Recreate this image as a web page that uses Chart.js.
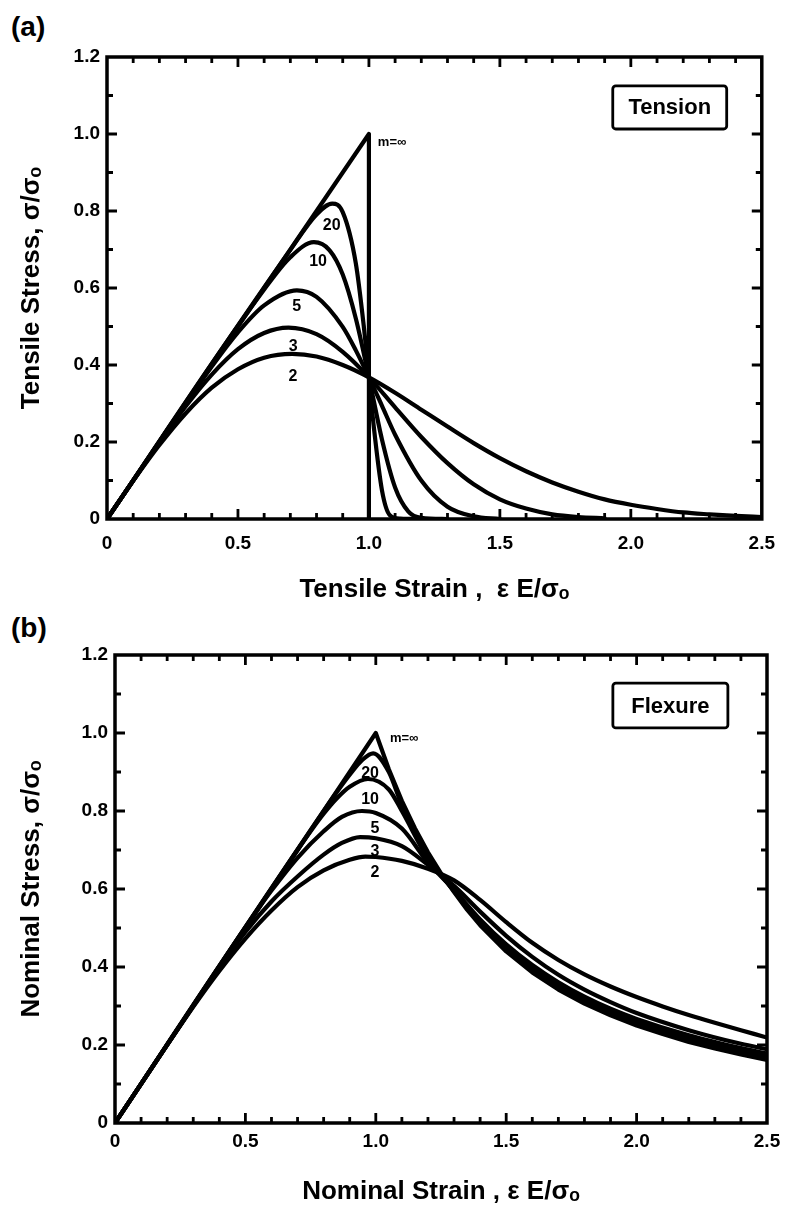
<!DOCTYPE html>
<html>
<head>
<meta charset="utf-8">
<script src="https://cdn.jsdelivr.net/npm/chart.js@4.4.0/dist/chart.umd.min.js"></script>
<style>
  html, body { margin: 0; padding: 0; background: #fff; }
  #wrap { position: relative; width: 788px; height: 1209px; overflow: hidden; }
  canvas { position: absolute; left: 0; }
  .panel { position: absolute; left: 11px; line-height: 1; font: bold 28px 'Liberation Sans', Arial, sans-serif; }
</style>
</head>
<body>
<div id="wrap">
  <div class="panel" style="top:11px">(a)</div>
  <canvas id="tensionChart" width="788" height="606" style="top:0"></canvas>
  <div class="panel" style="top:612px">(b)</div>
  <canvas id="flexureChart" width="788" height="603" style="top:606px"></canvas>
</div>
<script>
// ---- (a) tension : strain / stress ----
const tStrainInf = [0, 1.0, 1.0];
const tStressInf = [0, 1.0, 0];
const tStrain20 = [0, 0.7, 0.8, 0.86, 0.9, 0.95, 0.98, 1.0, 1.02, 1.05, 1.08, 1.12, 1.2];
const tStress20 = [0, 0.699, 0.791, 0.819, 0.797, 0.664, 0.503, 0.368, 0.231, 0.074, 0.010, 0.001, 0];
const tStrain10 = [0, 0.6, 0.7, 0.79, 0.85, 0.9, 0.95, 1.0, 1.05, 1.1, 1.15, 1.2, 1.3];
const tStress10 = [0, 0.596, 0.680, 0.719, 0.698, 0.635, 0.521, 0.368, 0.206, 0.082, 0.020, 0.003, 0];
const tStrain5 = [0, 0.4, 0.5, 0.6, 0.725, 0.8, 0.9, 0.95, 1.0, 1.05, 1.1, 1.2, 1.3, 1.4, 1.5];
const tStress5 = [0, 0.396, 0.485, 0.555, 0.594, 0.577, 0.499, 0.438, 0.368, 0.294, 0.219, 0.100, 0.032, 0.007, 0];
const tStrain3 = [0, 0.2, 0.3, 0.4, 0.5, 0.6, 0.693, 0.8, 0.9, 1.0, 1.1, 1.2, 1.3, 1.4, 1.5, 1.6, 1.7, 1.8, 1.9];
const tStress3 = [0, 0.198, 0.292, 0.375, 0.441, 0.483, 0.497, 0.480, 0.434, 0.368, 0.290, 0.213, 0.145, 0.090, 0.051, 0.027, 0.012, 0.005, 0.002];
const tStrain2 = [0, 0.1, 0.2, 0.3, 0.4, 0.5, 0.6, 0.707, 0.8, 0.9, 1.0, 1.1, 1.2, 1.3, 1.4, 1.5, 1.6, 1.7, 1.8, 1.9, 2.0, 2.1, 2.2, 2.3, 2.4, 2.5];
const tStress2 = [0, 0.099, 0.192, 0.274, 0.341, 0.389, 0.419, 0.429, 0.422, 0.400, 0.368, 0.328, 0.284, 0.240, 0.197, 0.158, 0.124, 0.095, 0.071, 0.051, 0.037, 0.026, 0.017, 0.012, 0.008, 0.005];

// ---- (b) flexure ----
const fStrainInf = [0, 1.0, 1.05, 1.1, 1.15, 1.2, 1.25, 1.3, 1.35, 1.4, 1.5, 1.6, 1.7, 1.8, 1.9, 2.0, 2.1, 2.2, 2.3, 2.4, 2.5];
const fStressInf = [0, 1.0, 0.907, 0.826, 0.756, 0.694, 0.640, 0.592, 0.547, 0.507, 0.440, 0.386, 0.342, 0.306, 0.276, 0.250, 0.228, 0.208, 0.191, 0.176, 0.162];
const fStrain20 = [0, 0.8, 0.85, 0.9, 0.95, 0.99, 1.05, 1.1, 1.2, 1.3, 1.4, 1.5, 1.6, 1.7, 1.8, 1.9, 2.0, 2.2, 2.4, 2.5];
const fStress20 = [0, 0.8, 0.848, 0.893, 0.932, 0.948, 0.900, 0.815, 0.686, 0.594, 0.511, 0.446, 0.392, 0.348, 0.311, 0.281, 0.255, 0.213, 0.181, 0.167];
const fStrain10 = [0, 0.7, 0.75, 0.8, 0.85, 0.9, 0.97, 1.05, 1.1, 1.2, 1.3, 1.4, 1.5, 1.6, 1.7, 1.8, 1.9, 2.0, 2.2, 2.4, 2.5];
const fStress10 = [0, 0.7, 0.748, 0.793, 0.832, 0.862, 0.882, 0.855, 0.80, 0.678, 0.596, 0.515, 0.450, 0.397, 0.353, 0.316, 0.286, 0.260, 0.218, 0.186, 0.172];
const fStrain5 = [0, 0.55, 0.6, 0.7, 0.8, 0.87, 0.947, 1.0, 1.1, 1.2, 1.3, 1.4, 1.5, 1.6, 1.7, 1.8, 1.9, 2.0, 2.2, 2.4, 2.5];
const fStress5 = [0, 0.55, 0.596, 0.680, 0.748, 0.785, 0.800, 0.795, 0.755, 0.668, 0.598, 0.522, 0.458, 0.405, 0.361, 0.324, 0.293, 0.267, 0.225, 0.192, 0.178];
const fStrain3 = [0, 0.4, 0.5, 0.6, 0.7, 0.8, 0.87, 0.94, 1.0, 1.1, 1.2, 1.3, 1.4, 1.5, 1.6, 1.7, 1.8, 1.9, 2.0, 2.2, 2.4, 2.5];
const fStress3 = [0, 0.398, 0.490, 0.568, 0.632, 0.688, 0.718, 0.733, 0.730, 0.710, 0.662, 0.608, 0.542, 0.480, 0.426, 0.380, 0.342, 0.310, 0.282, 0.238, 0.203, 0.189];
const fStrain2 = [0, 0.3, 0.4, 0.5, 0.6, 0.7, 0.8, 0.9, 0.96, 1.0, 1.1, 1.2, 1.3, 1.4, 1.5, 1.6, 1.7, 1.8, 1.9, 2.0, 2.1, 2.2, 2.3, 2.4, 2.5];
const fStress2 = [0, 0.298, 0.390, 0.473, 0.545, 0.605, 0.648, 0.675, 0.683, 0.682, 0.672, 0.652, 0.622, 0.572, 0.515, 0.462, 0.418, 0.381, 0.350, 0.323, 0.299, 0.277, 0.257, 0.238, 0.219];

const curveNames = ['m=∞', '20', '10', '5', '3', '2'];
const xTickValues = [0, 0.5, 1.0, 1.5, 2.0, 2.5];
const yTickValues = [0, 0.2, 0.4, 0.6, 0.8, 1.0, 1.2];

const FONT = "'Liberation Sans', Arial, sans-serif";

function series(name, xs, ys, sharp) {
  return {
    label: name,
    data: xs.map((x, i) => ({ x: x, y: ys[i] })),
    borderColor: '#000',
    borderWidth: 4.2,
    borderCapStyle: 'round',
    borderJoinStyle: 'round',
    pointRadius: 0,
    tension: 0,
    cubicInterpolationMode: sharp ? 'default' : 'monotone',
    fill: false
  };
}

// frame, inward ticks, curve numbers and the boxed caption
const notesPlugin = {
  id: 'notes',
  afterDraw(chart, args, opts) {
    const { ctx, chartArea: a, scales: { x, y } } = chart;
    ctx.save();
    ctx.strokeStyle = '#000';
    ctx.fillStyle = '#000';
    ctx.lineWidth = 3.5;
    ctx.strokeRect(a.left, a.top, a.right - a.left, a.bottom - a.top);

    ctx.lineWidth = 2.8;
    ctx.beginPath();
    for (let i = 1; i < 25; i++) {
      const px = x.getPixelForValue(i / 10);
      const len = i % 5 === 0 ? 10 : 6;
      ctx.moveTo(px, a.bottom); ctx.lineTo(px, a.bottom - len);
      ctx.moveTo(px, a.top); ctx.lineTo(px, a.top + len);
    }
    for (let i = 1; i < 12; i++) {
      const py = y.getPixelForValue(i / 10);
      const len = i % 2 === 0 ? 10 : 6;
      ctx.moveTo(a.left, py); ctx.lineTo(a.left + len, py);
      ctx.moveTo(a.right, py); ctx.lineTo(a.right - len, py);
    }
    ctx.stroke();

    ctx.textBaseline = 'middle';
    opts.labels.forEach(function (l, i) {
      const name = curveNames[i];
      ctx.font = 'bold ' + (i === 0 ? 13 : 16) + 'px ' + FONT;
      ctx.textAlign = i === 0 ? 'left' : 'center';
      ctx.fillText(name, x.getPixelForValue(l[0]), y.getPixelForValue(l[1]));
    });

    const b = opts.box;
    const bx0 = x.getPixelForValue(b.x0), bx1 = x.getPixelForValue(b.x1);
    const by0 = y.getPixelForValue(b.y0), by1 = y.getPixelForValue(b.y1);
    ctx.lineWidth = 2.8;
    ctx.beginPath();
    ctx.roundRect(bx0, by0, bx1 - bx0, by1 - by0, 3);
    ctx.stroke();
    ctx.font = 'bold 22px ' + FONT;
    ctx.textAlign = 'center';
    ctx.fillText(b.text, (bx0 + bx1) / 2, (by0 + by1) / 2 + 1);
    ctx.restore();
  }
};

function makeChart(id, datasets, cfg) {
  return new Chart(document.getElementById(id), {
    type: 'line',
    data: { datasets: datasets },
    options: {
      responsive: false,
      animation: false,
      events: [],
      layout: { padding: { top: cfg.top, right: cfg.right, left: 0, bottom: 0 } },
      plugins: {
        legend: { display: false },
        tooltip: { enabled: false },
        notes: { labels: cfg.labels, box: cfg.box }
      },
      scales: {
        x: {
          type: 'linear', min: 0, max: 2.5,
          afterFit: function (s) { s.height = cfg.xHeight; },
          afterBuildTicks: function (s) { s.ticks = xTickValues.map(v => ({ value: v })); },
          grid: { display: false, drawTicks: false },
          border: { display: false },
          ticks: {
            padding: cfg.xPad, color: '#000', maxRotation: 0,
            font: { family: FONT, size: 19, weight: 'bold' },
            callback: v => v === 0 ? '0' : v.toFixed(1)
          },
          title: {
            display: true, text: cfg.xTitle, color: '#000',
            padding: { top: 0, bottom: cfg.xTitlePad },
            font: { family: FONT, size: 26, weight: 'bold', lineHeight: 1.1 }
          }
        },
        y: {
          min: 0, max: 1.2,
          afterFit: function (s) { s.width = cfg.left; },
          afterBuildTicks: function (s) { s.ticks = yTickValues.map(v => ({ value: v })); },
          grid: { display: false, drawTicks: false },
          border: { display: false },
          ticks: {
            padding: 7, color: '#000',
            font: { family: FONT, size: 19, weight: 'bold' },
            callback: v => v === 0 ? '0' : v.toFixed(1)
          },
          title: {
            display: true, text: cfg.yTitle, color: '#000',
            padding: { top: 16, bottom: 0 },
            font: { family: FONT, size: 26, weight: 'bold', lineHeight: 1.2 }
          }
        }
      }
    },
    plugins: [notesPlugin]
  });
}

makeChart('tensionChart', [
  series('m=∞', tStrainInf, tStressInf, true),
  series('20', tStrain20, tStress20),
  series('10', tStrain10, tStress10),
  series('5', tStrain5, tStress5),
  series('3', tStrain3, tStress3),
  series('2', tStrain2, tStress2)
], {
  top: 57, right: 26, left: 107, xHeight: 87, xPad: 13, xTitlePad: 2,
  xTitle: 'Tensile Strain ,  ε E/σₒ',
  yTitle: 'Tensile Stress, σ/σₒ',
  labels: [[1.034, 0.977], [0.858, 0.761], [0.806, 0.668], [0.724, 0.551], [0.711, 0.448], [0.71, 0.369]],
  box: { x0: 1.931, x1: 2.366, y0: 1.125, y1: 1.013, text: 'Tension' }
});

makeChart('flexureChart', [
  series('m=∞', fStrainInf, fStressInf, true),
  series('20', fStrain20, fStress20),
  series('10', fStrain10, fStress10),
  series('5', fStrain5, fStress5),
  series('3', fStrain3, fStress3),
  series('2', fStrain2, fStress2)
], {
  top: 49, right: 21, left: 115, xHeight: 86, xPad: 7, xTitlePad: 3,
  xTitle: 'Nominal Strain , ε E/σₒ',
  yTitle: 'Nominal Stress, σ/σₒ',
  labels: [[1.054, 0.987], [0.978, 0.897], [0.978, 0.828], [0.997, 0.754], [0.997, 0.697], [0.997, 0.641]],
  box: { x0: 1.909, x1: 2.35, y0: 1.128, y1: 1.013, text: 'Flexure' }
});
</script>
</body>
</html>
